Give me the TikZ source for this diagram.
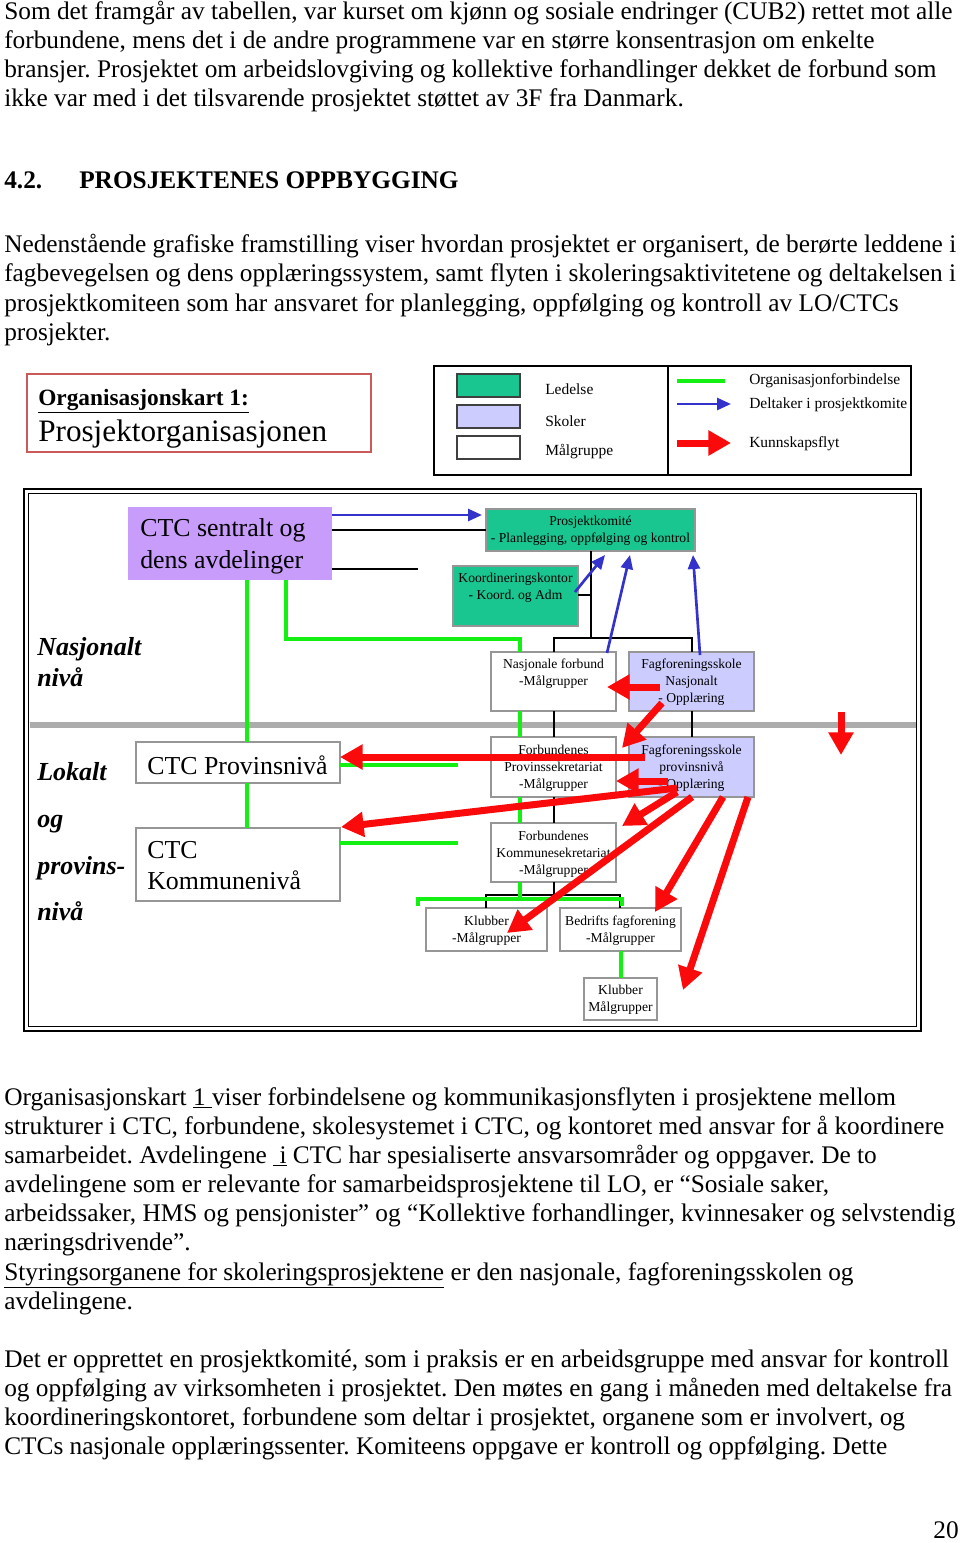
\documentclass[tikz,border=0pt]{standalone}
\usepackage{fontspec}
\setmainfont{Liberation Serif}
\usepackage{graphicx}
\usetikzlibrary{arrows.meta,fit}
\frenchspacing
\definecolor{tealc}{RGB}{26,198,144}
\definecolor{lavc}{RGB}{204,204,255}
\definecolor{purc}{RGB}{200,156,250}
\definecolor{grnc}{RGB}{20,240,20}
\definecolor{bluc}{RGB}{51,51,204}
\definecolor{redc}{RGB}{250,10,10}
\definecolor{bordc}{RGB}{150,150,150}
\definecolor{sepc}{RGB}{172,172,172}
\definecolor{titc}{RGB}{200,90,90}
\newcommand\sx{1.0}
\newcommand\bodyf{\fontsize{19}{23}\selectfont}
\newcommand\TL[3]{\node[anchor=base west,inner sep=0pt] (#1) at (4,#2) {\scalebox{\sx}[1]{\bodyf #3}};}
\tikzset{
 gbox/.style={draw=bordc, line width=0.9pt, fill=white, inner sep=0pt, outer sep=0pt},
 tbox/.style={gbox, fill=tealc},
 lbox/.style={gbox, fill=lavc},
 stxt/.style={inner sep=0pt, align=center, font=\fontsize{10.2}{12.6}\selectfont},
 bigtxt/.style={inner sep=0pt, align=left, anchor=west, font=\fontsize{19.4}{24}\selectfont},
 lvl/.style={inner sep=0pt, align=left, anchor=west},
 grn/.style={draw=grnc, line width=3pt},
 blk/.style={draw=black, line width=1.1pt},
 bluarr/.style={draw=bluc, line width=2pt, -{Triangle[length=10.5pt,width=9pt]}},
 redarr/.style={draw=redc, line width=5.25pt, -{Triangle[length=17pt,width=18pt]}},
 legtxt/.style={inner sep=0pt, anchor=west, font=\fontsize{11.6}{14}\selectfont},
}
\begin{document}
\begin{tikzpicture}[x=0.75pt,y=-0.75pt]
\useasboundingbox (0,0) rectangle (960,1543);
\fill[white] (0,0) rectangle (960,1543);

% ---- body text ----
\TL{p1a}{19}{Som det framgår av tabellen, var kurset om kjønn og sosiale endringer (CUB2) rettet mot alle}
\TL{p1b}{48}{forbundene, mens det i de andre programmene var en større konsentrasjon om enkelte}
\TL{p1c}{77}{bransjer. Prosjektet om arbeidslovgiving og kollektive forhandlinger dekket de forbund som}
\TL{p1d}{106}{ikke var med i det tilsvarende prosjektet støttet av 3F fra Danmark.}
\node[anchor=base west,inner sep=0pt] (h1) at (4,188) {\scalebox{\sx}[1]{\bodyf\bfseries 4.2.}};
\node[anchor=base west,inner sep=0pt] (h2) at (79,188) {\scalebox{\sx}[1]{\bodyf\bfseries PROSJEKTENES OPPBYGGING}};
\TL{p2a}{252}{Nedenstående grafiske framstilling viser hvordan prosjektet er organisert, de berørte leddene i}
\TL{p2b}{281}{fagbevegelsen og dens opplæringssystem, samt flyten i skoleringsaktivitetene og deltakelsen i}
\TL{p2c}{311}{prosjektkomiteen som har ansvaret for planlegging, oppfølging og kontroll av LO/CTCs}
\TL{p2d}{340}{prosjekter.}
\TL{p3a}{1105}{Organisasjonskart \underline{1\ }viser forbindelsene og kommunikasjonsflyten i prosjektene mellom}
\TL{p3b}{1134}{strukturer i CTC, forbundene, skolesystemet i CTC, og kontoret med ansvar for å koordinere}
\TL{p3c}{1163}{samarbeidet. Avdelingene \underline{\ i} CTC har spesialiserte ansvarsområder og oppgaver. De to}
\TL{p3d}{1192}{avdelingene som er relevante for samarbeidsprosjektene til LO, er “Sosiale saker,}
\TL{p3e}{1221}{arbeidssaker, HMS og pensjonister” og “Kollektive forhandlinger, kvinnesaker og selvstendig}
\TL{p3f}{1250}{næringsdrivende”.}
\TL{p3g}{1280}{\underline{Styringsorganene for skoleringsprosjektene} er den nasjonale, fagforeningsskolen og}
\TL{p3h}{1309}{avdelingene.}
\TL{p4a}{1367}{Det er opprettet en prosjektkomité, som i praksis er en arbeidsgruppe med ansvar for kontroll}
\TL{p4b}{1396}{og oppfølging av virksomheten i prosjektet. Den møtes en gang i måneden med deltakelse fra}
\TL{p4c}{1425}{koordineringskontoret, forbundene som deltar i prosjektet, organene som er involvert, og}
\TL{p4d}{1454}{CTCs nasjonale opplæringssenter. Komiteens oppgave er kontroll og oppfølging. Dette}
\node[anchor=base east,inner sep=0pt] (pg) at (959,1538) {\scalebox{\sx}[1]{\bodyf 20}};

% ---- title box ----
\node[draw=titc, line width=1.1pt, inner sep=0pt, fit={(27,374)(371,452)}] (tbx) {};
\node[anchor=west, inner sep=0pt, font=\fontsize{17.5}{20}\selectfont\bfseries] (tt1) at (38,401) {\underline{Organisasjonskart 1:}};
\node[anchor=west, inner sep=0pt, font=\fontsize{23.4}{28}\selectfont] (tt2) at (38,434) {Prosjektorganisasjonen};

% ---- legend ----
\node[draw, line width=1pt, inner sep=0pt, fit={(434,366)(911,475)}] (leg) {};
\coordinate (ldiv) at (668,0);
\draw[line width=1pt] (leg.north -| ldiv) -- (leg.south -| ldiv);
\node[draw=black!75, line width=0.8pt, fill=tealc, inner sep=0pt, fit={(457,374)(520,397)}] (sw1) {};
\node[draw=black!75, line width=0.8pt, fill=lavc, inner sep=0pt, fit={(457,405)(520,428)}] (sw2) {};
\node[draw=black!75, line width=0.8pt, fill=white, inner sep=0pt, fit={(457,436)(520,459)}] (sw3) {};
\node[legtxt] (l1) at (545,389) {Ledelse};
\node[legtxt] (l2) at (545,421) {Skoler};
\node[legtxt] (l3) at (545,452) {Målgruppe};
\coordinate (lg1) at (677,381); \coordinate (lg2) at (725,381);
\coordinate (lb1) at (677,404); \coordinate (lb2) at (731,404);
\coordinate (lr1) at (677,443); \coordinate (lr2) at (731,443);
\draw[grn] (lg1) -- (lg2);
\draw[bluarr] (lb1) -- (lb2);
\draw[redarr] (lr1) -- (lr2);
\node[legtxt] (l4) at (749,381) {Organisasjonforbindelse};
\node[legtxt] (l5) at (749,405) {Deltaker i prosjektkomite};
\node[legtxt] (l6) at (749,444) {Kunnskapsflyt};

% ---- main frame ----
\draw[line width=2.2pt] (24,489) rectangle (921,1031);
\draw[line width=0.8pt] (28.5,493.5) rectangle (916.5,1026.5);
\draw[sepc, line width=4.5pt] (29.5,725) -- (916,725);

% ---- boxes ----
\node[fill=purc, inner sep=0pt, outer sep=0pt, fit={(128,507)(332,580)}] (cs) {};
\node[tbox, fit={(486,509)(695,551)}] (pk) {};
\node[tbox, fit={(453,566)(578,626)}] (kk) {};
\node[gbox, fit={(491,652)(616,711)}] (nf) {};
\node[lbox, fit={(629,652)(754,711)}] (fn) {};
\node[gbox, fit={(136,742)(340,783)}] (cp) {};
\node[gbox, fit={(136,828)(340,901)}] (ck) {};
\node[gbox, fit={(491,737)(616,797)}] (ps) {};
\node[lbox, fit={(629,737)(754,797)}] (fp) {};
\node[gbox, fit={(491,823)(616,882)}] (ks) {};
\node[gbox, fit={(426,908)(547,951)}] (kl) {};
\node[gbox, fit={(560,908)(681,951)}] (bf) {};
\node[gbox, fit={(584,978)(657,1020)}] (kb) {};

% ---- box texts ----
\node[bigtxt] (cst) at (140,546) {CTC sentralt og\\dens avdelinger};
\node[stxt] (pkt) at (590.5,531) {Prosjektkomité\\- Planlegging, oppfølging og kontrol};
\node[stxt] (kkt) at (515.5,588) {Koordineringskontor\\- Koord. og Adm};
\node[stxt] (nft) at (553.5,674) {Nasjonale forbund\\-Målgrupper};
\node[stxt] (fnt) at (691.5,682) {Fagforeningsskole\\Nasjonalt\\- Opplæring};
\node[bigtxt] (cpt) at (147,765) {CTC Provinsnivå};
\node[bigtxt, font=\fontsize{19.4}{23.25}\selectfont] (ckt) at (147,866) {CTC\\Kommunenivå};
\node[stxt] (pst) at (553.5,768) {Forbundenes\\Provinssekretariat\\-Målgrupper};
\node[stxt] (fpt) at (691.5,768) {Fagforeningsskole\\provinsnivå\\- Opplæring};
\node[stxt] (kst) at (553.5,854) {Forbundenes\\Kommunesekretariat\\-Målgrupper};
\node[stxt] (klt) at (486.5,931) {Klubber\\-Målgrupper};
\node[stxt] (bft) at (620.5,931) {Bedrifts fagforening\\-Målgrupper};
\node[stxt] (kbt) at (620.5,1000) {Klubber\\Målgrupper};

% ---- level labels ----
\node[lvl, font=\fontsize{19.5}{23.25}\selectfont\bfseries\itshape] (lv1) at (37,662) {Nasjonalt\\nivå};
\node[lvl, font=\fontsize{19.5}{35}\selectfont\bfseries\itshape] (lv2) at (37,842) {Lokalt\\og\\provins-\\nivå};

% ---- coordinates ----
\coordinate (xg1) at (247,0); \coordinate (xg2) at (286,0);
\coordinate (xg3) at (520,0); \coordinate (xg4) at (621,0);
\coordinate (yg1) at (0,639); \coordinate (yg2) at (0,899);
\coordinate (gbl) at (418,906); \coordinate (gbr) at (622,906);
\coordinate (yc1) at (0,765); \coordinate (yc2) at (0,843);
\coordinate (ge1) at (458,765); \coordinate (ge2) at (458,843);
\coordinate (xb1) at (591,0); \coordinate (xb2) at (554,0);
\coordinate (xb3) at (692,0); \coordinate (xb4) at (486,0);
\coordinate (xb5) at (620,0);
\coordinate (yb1) at (0,638); \coordinate (yb2) at (0,895);
\coordinate (yk) at (0,595); \coordinate (ya) at (0,530);
\coordinate (bk2) at (418,569); \coordinate (yb) at (0,515);

% ---- black lines ----
\draw[blk] (cs.east |- ya) -- (pk.west |- ya);
\draw[blk] (cs.east |- bk2) -- (bk2);
\draw[blk] (pk.south -| xb1) -- (xb1 |- yb1);
\draw[blk] (kk.east |- yk) -- (xb1 |- yk);
\draw[blk] (nf.north -| xb2) -- (xb2 |- yb1) -- (xb3 |- yb1) -- (fn.north -| xb3);
\draw[blk] (nf.south -| xb2) -- (ps.north -| xb2);
\draw[blk] (fn.south -| xb3) -- (fp.north -| xb3);
\draw[blk] (ps.south -| xb2) -- (ks.north -| xb2);
\draw[blk] (ks.south -| xb2) -- (xb2 |- yb2);
\draw[blk] (kl.north -| xb4) -- (xb4 |- yb2) -- (xb5 |- yb2) -- (bf.north -| xb5);

% ---- green lines ----
\draw[grn] (cs.south -| xg1) -- (cp.north -| xg1);
\draw[grn] (cp.south -| xg1) -- (ck.north -| xg1);
\draw[grn] (cs.south -| xg2) -- (xg2 |- yg1) -- (xg3 |- yg1) -- (nf.north -| xg3);
\draw[grn] (nf.south -| xg3) -- (ps.north -| xg3);
\draw[grn] (ps.south -| xg3) -- (ks.north -| xg3);
\draw[grn] (ks.south -| xg3) -- (xg3 |- yg2);
\draw[grn] (gbl) -- (gbl |- yg2) -- (gbr |- yg2) -- (gbr);
\draw[grn] (bf.south -| xg4) -- (kb.north -| xg4);
\draw[grn] (cp.east |- yc1) -- (ge1);
\draw[grn] (ck.east |- yc2) -- (ge2);

% ---- blue arrows ----
\coordinate (b1s) at (575,592); \coordinate (b1e) at (605,555);
\coordinate (b2s) at (607,653); \coordinate (b2e) at (630,555);
\coordinate (b3s) at (700,655); \coordinate (b3e) at (693,555);
\draw[bluarr, shorten >=3pt] (cs.east |- yb) -- (pk.west |- yb);
\draw[bluarr] (b1s) -- (b1e);
\draw[bluarr] (b2s) -- (b2e);
\draw[bluarr] (b3s) -- (b3e);

% ---- red arrows ----
\coordinate (r1s) at (660,687); \coordinate (r1e) at (607,687);
\coordinate (r2s) at (662,703); \coordinate (r2e) at (622,748);
\coordinate (r3s) at (841,712); \coordinate (r3e) at (841,755);
\coordinate (r4s) at (645,757);
\coordinate (r5s) at (668,781);
\coordinate (r6s) at (677,788); \coordinate (r6e) at (341,827);
\coordinate (r7s) at (677,792); \coordinate (r7e) at (622,826);
\coordinate (r8s) at (692,797); \coordinate (r8e) at (507,933);
\coordinate (r9s) at (723,797); \coordinate (r9e) at (655,912);
\coordinate (r10s) at (748,797); \coordinate (r10e) at (683,990);
\draw[redarr] (r1s) -- (r1e);
\draw[redarr] (r2s) -- (r2e);
\draw[redarr] (r3s) -- (r3e);
\draw[redarr] (r4s) -- (cp.east |- r4s);
\draw[redarr] (r5s) -- (ps.east |- r5s);
\draw[redarr] (r6s) -- (r6e);
\draw[redarr] (r7s) -- (r7e);
\draw[redarr] (r8s) -- (r8e);
\draw[redarr] (r9s) -- (r9e);
\draw[redarr] (r10s) -- (r10e);
\end{tikzpicture}
\end{document}
